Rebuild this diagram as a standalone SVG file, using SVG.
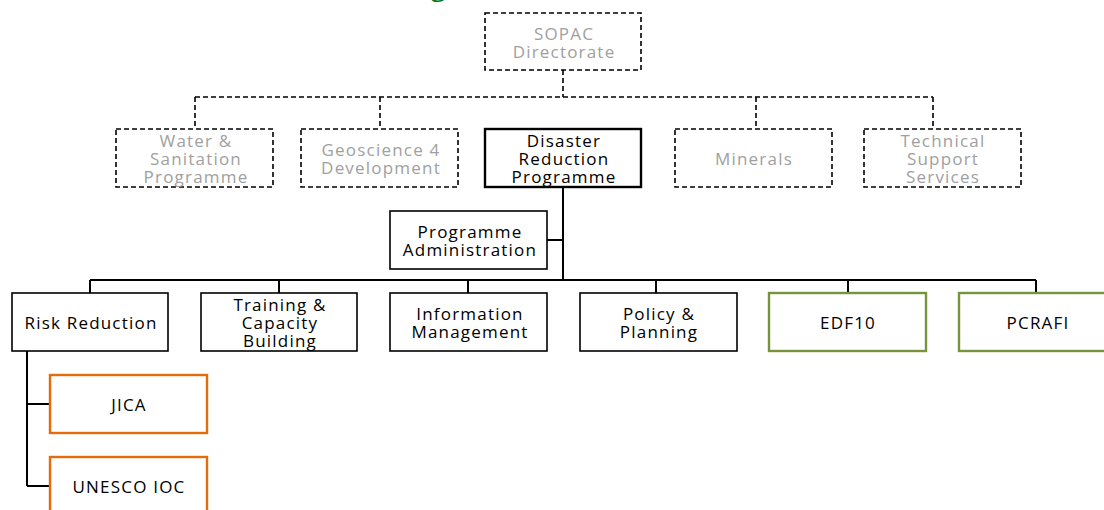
<svg xmlns="http://www.w3.org/2000/svg" width="1104" height="510" viewBox="0 0 1104 510">
  <style>
    .box { fill: #ffffff; stroke: #000000; stroke-width: 1.6; }
    .dash { fill: #ffffff; stroke: #000000; stroke-width: 1.6; stroke-dasharray: 5 3; }
    .main { fill: #ffffff; stroke: #000000; stroke-width: 2.4; }
    .green { fill: #ffffff; stroke: #77933c; stroke-width: 2.4; }
    .orange { fill: #ffffff; stroke: #e46c0a; stroke-width: 2.4; }
    .lbl { font-family: "Open Sans", "Noto Sans", sans-serif; font-size: 17px; text-anchor: middle; fill: #000000; letter-spacing: 1.2px; }
    .grey { fill: #a0a0a0; }
    .line { fill: none; stroke: #000000; stroke-width: 2; }
    .dline { fill: none; stroke: #000000; stroke-width: 1.6; stroke-dasharray: 5 3; }
  </style>

  <!-- title fragment along the top edge -->
  <text x="438" y="-4" font-family="Liberation Serif, serif" font-weight="bold" font-size="30" fill="#007a1f" text-anchor="middle">g</text>

  <!-- connectors -->
  <g id="connectors">
    <path class="dline" d="M563 70 V97 M195 97 H933 M195 97 V129 M380 97 V129 M756 97 V129 M933 97 V129"/>
    <path class="line" d="M563 187 V280 M547 240 H563 M90 280 H1036 M90 280 V293 M279 280 V293 M468 280 V293 M656 280 V293 M848 280 V293 M1036 280 V293"/>
    <path class="line" d="M27 351 V486 M27 404 H50 M27 486 H50"/>
  </g>

  <g id="sopac">
    <rect class="dash" x="485" y="13" width="156" height="57"/>
    <text class="lbl grey" x="564" y="40">SOPAC</text>
    <text class="lbl grey" x="564" y="58">Directorate</text>
  </g>

  <g id="water">
    <rect class="dash" x="116" y="129" width="157" height="58"/>
    <text class="lbl grey" x="196" y="147">Water &amp;</text>
    <text class="lbl grey" x="196" y="165">Sanitation</text>
    <text class="lbl grey" x="196" y="183">Programme</text>
  </g>

  <g id="geoscience">
    <rect class="dash" x="301" y="129" width="157" height="58"/>
    <text class="lbl grey" x="381" y="156">Geoscience 4</text>
    <text class="lbl grey" x="381" y="174">Development</text>
  </g>

  <g id="disaster">
    <rect class="main" x="485" y="129" width="156" height="58"/>
    <text class="lbl" x="564" y="147">Disaster</text>
    <text class="lbl" x="564" y="165">Reduction</text>
    <text class="lbl" x="564" y="183">Programme</text>
  </g>

  <g id="minerals">
    <rect class="dash" x="675" y="129" width="157" height="58"/>
    <text class="lbl grey" x="754" y="165">Minerals</text>
  </g>

  <g id="technical">
    <rect class="dash" x="864" y="129" width="157" height="58"/>
    <text class="lbl grey" x="943" y="147">Technical</text>
    <text class="lbl grey" x="943" y="165">Support</text>
    <text class="lbl grey" x="943" y="183">Services</text>
  </g>

  <g id="admin">
    <rect class="box" x="390" y="211" width="157" height="58"/>
    <text class="lbl" x="470" y="238">Programme</text>
    <text class="lbl" x="470" y="256">Administration</text>
  </g>

  <g id="risk">
    <rect class="box" x="12" y="293" width="156" height="58"/>
    <text class="lbl" x="91" y="329">Risk Reduction</text>
  </g>

  <g id="training">
    <rect class="box" x="201" y="293" width="156" height="58"/>
    <text class="lbl" x="280" y="311">Training &amp;</text>
    <text class="lbl" x="280" y="329">Capacity</text>
    <text class="lbl" x="280" y="347">Building</text>
  </g>

  <g id="information">
    <rect class="box" x="390" y="293" width="157" height="58"/>
    <text class="lbl" x="470" y="320">Information</text>
    <text class="lbl" x="470" y="338">Management</text>
  </g>

  <g id="policy">
    <rect class="box" x="580" y="293" width="157" height="58"/>
    <text class="lbl" x="659" y="320">Policy &amp;</text>
    <text class="lbl" x="659" y="338">Planning</text>
  </g>

  <g id="edf10">
    <rect class="green" x="769" y="293" width="157" height="58"/>
    <text class="lbl" x="848" y="329">EDF10</text>
  </g>

  <g id="pcrafi">
    <rect class="green" x="959" y="293" width="157" height="58"/>
    <text class="lbl" x="1038" y="329">PCRAFI</text>
  </g>

  <g id="jica">
    <rect class="orange" x="50" y="375" width="157" height="58"/>
    <text class="lbl" x="129" y="411">JICA</text>
  </g>

  <g id="unesco">
    <rect class="orange" x="50" y="457" width="157" height="58"/>
    <text class="lbl" x="129" y="493">UNESCO IOC</text>
  </g>
</svg>
